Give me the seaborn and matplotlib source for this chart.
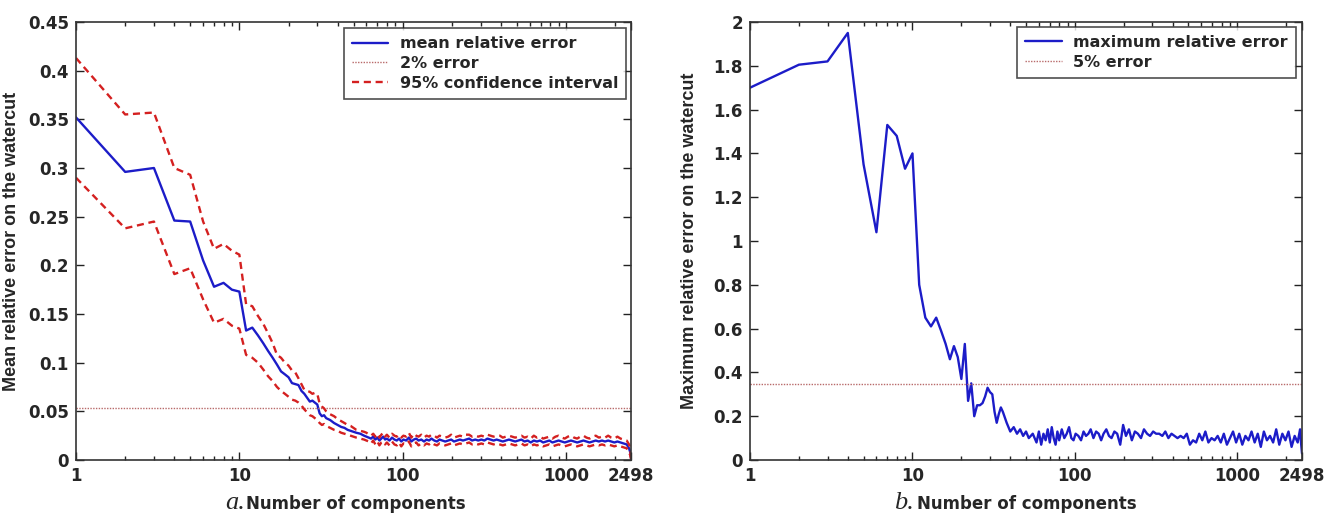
import matplotlib
matplotlib.use("Agg")
import matplotlib.pyplot as plt
import seaborn as sns
import numpy as np
import pandas as pd
from matplotlib.ticker import FixedLocator, FixedFormatter, LogLocator, NullFormatter

# ---------------- data ----------------
components = [
    1, 2, 3, 4, 5, 6, 7, 8, 9, 10,
    11, 12, 13, 14, 15, 16, 17, 18, 19, 20,
    21, 22, 23, 24, 25, 26, 27, 28, 29, 30,
    31, 32, 33, 34, 35, 36, 38, 40, 42, 44,
    46, 48, 50, 52, 55, 58, 60, 62, 64, 66,
    68, 70, 72, 74, 76, 78, 80, 83, 86, 89,
    92, 95, 98, 101, 105, 109, 113, 117, 121, 125,
    130, 135, 140, 145, 150, 156, 162, 168, 175, 182,
    190, 198, 206, 215, 224, 234, 244, 255, 266, 278,
    290, 303, 316, 330, 345, 360, 376, 393, 410, 428,
    447, 467, 488, 510, 533, 557, 582, 608, 635, 663,
    693, 724, 756, 790, 825, 862, 900, 940, 982, 1026,
    1072, 1120, 1170, 1222, 1277, 1334, 1393, 1455, 1520, 1588,
    1659, 1733, 1810, 1891, 1975, 2063, 2155, 2251, 2350, 2430,
    2470, 2498,
]

mean_err = [
    .352, .296, .300, .246, .245, .205, .178, .182, .175, .173,
    .133, .136, .128, .120, .112, .105, .098, .091, .088, .085,
    .079, .078, .077, .071, .068, .064, .060, .061, .059, .057,
    .048, .045, .046, .043, .042, .041, .038, .036, .034, .033,
    .031, .030, .029, .028, .027, .025, .024, .023, .022, .024,
    .021, .023, .020, .022, .024, .021, .022, .020, .023, .021,
    .020, .022, .019, .021, .020, .023, .019, .021, .022, .020,
    .021, .019, .021, .020, .022, .020, .019, .021, .020, .019,
    .020, .021, .019, .020, .021, .020, .021, .022, .020, .021,
    .020, .021, .020, .022, .021, .020, .021, .020, .019, .020,
    .021, .020, .019, .020, .021, .019, .020, .018, .020, .019,
    .020, .018, .019, .020, .018, .019, .020, .019, .018, .019,
    .020, .019, .018, .019, .020, .019, .018, .019, .020, .019,
    .020, .019, .020, .019, .018, .019, .018, .017, .016, .012,
    .008, .002,
]

ci_upper = [
    .413, .355, .357, .300, .293, .245, .217, .222, .215, .211,
    .160, .158, .148, .140, .130, .120, .108, .105, .100, .097,
    .092, .090, .084, .078, .072, .071, .070, .068, .069, .068,
    .058, .055, .053, .050, .048, .047, .045, .042, .040, .038,
    .036, .035, .033, .031, .030, .029, .028, .026, .025, .027,
    .024, .027, .023, .026, .028, .024, .026, .023, .027, .025,
    .024, .026, .023, .025, .024, .028, .023, .027, .025, .024,
    .026, .023, .025, .024, .026, .025, .023, .025, .024, .023,
    .024, .026, .023, .024, .025, .024, .026, .026, .024, .025,
    .024, .025, .024, .026, .025, .024, .025, .025, .023, .024,
    .025, .024, .023, .024, .025, .023, .024, .022, .025, .023,
    .024, .022, .023, .024, .022, .024, .025, .023, .022, .024,
    .025, .023, .022, .024, .025, .023, .022, .024, .025, .023,
    .024, .023, .025, .023, .022, .024, .022, .021, .020, .016,
    .011, .003,
]

ci_lower = [
    .290, .238, .245, .191, .197, .165, .141, .145, .138, .135,
    .108, .105, .100, .093, .086, .081, .075, .071, .068, .065,
    .062, .061, .059, .056, .052, .049, .046, .045, .043, .041,
    .038, .036, .037, .035, .034, .033, .031, .030, .028, .027,
    .026, .025, .024, .023, .022, .021, .020, .019, .017, .020,
    .016, .019, .015, .018, .019, .016, .018, .015, .019, .016,
    .015, .018, .014, .017, .016, .019, .014, .017, .018, .015,
    .017, .015, .017, .016, .018, .016, .015, .017, .016, .015,
    .016, .017, .015, .016, .017, .016, .017, .018, .016, .017,
    .016, .017, .016, .018, .017, .016, .017, .016, .015, .016,
    .017, .016, .015, .016, .017, .015, .016, .014, .016, .015,
    .016, .014, .015, .016, .014, .015, .016, .015, .014, .015,
    .016, .015, .014, .015, .016, .015, .014, .015, .016, .015,
    .016, .015, .016, .015, .014, .015, .014, .013, .012, .008,
    .005, .001,
]

max_err = [
    1.70, 1.805, 1.82, 1.95, 1.35, 1.04, 1.53, 1.48, 1.33, 1.40,
    .80, .65, .61, .65, .59, .53, .46, .52, .47, .37,
    .53, .27, .35, .20, .25, .25, .26, .29, .33, .31,
    .30, .22, .17, .21, .24, .22, .17, .13, .15, .12,
    .14, .11, .13, .10, .12, .08, .13, .07, .12, .09,
    .14, .08, .15, .10, .07, .13, .09, .14, .10, .12,
    .15, .10, .09, .12, .11, .09, .13, .11, .12, .14,
    .10, .13, .12, .09, .12, .14, .11, .10, .13, .12,
    .07, .16, .11, .14, .09, .13, .12, .10, .14, .12,
    .11, .13, .12, .12, .11, .13, .10, .12, .11, .10,
    .11, .10, .12, .07, .09, .08, .12, .09, .13, .08,
    .10, .09, .11, .08, .12, .07, .10, .13, .08, .12,
    .07, .11, .09, .13, .08, .12, .06, .13, .09, .11,
    .08, .14, .07, .12, .09, .13, .06, .11, .08, .14,
    .07, .03,
]

threshold_a = 0.053   # "2% error" line
threshold_b = 0.345   # "5% error" line

xtick_vals = [1, 10, 100, 1000, 2498]
xtick_labels = ["1", "10", "100", "1000", "2498"]
ytick_a = [0, 0.05, 0.1, 0.15, 0.2, 0.25, 0.3, 0.35, 0.4, 0.45]
ytick_a_labels = ["0", "0.05", "0.1", "0.15", "0.2", "0.25", "0.3", "0.35", "0.4", "0.45"]
ytick_b = [0, 0.2, 0.4, 0.6, 0.8, 1.0, 1.2, 1.4, 1.6, 1.8, 2.0]
ytick_b_labels = ["0", "0.2", "0.4", "0.6", "0.8", "1", "1.2", "1.4", "1.6", "1.8", "2"]

# ---------------- style ----------------
sns.set_style("ticks", {"xtick.direction": "in", "ytick.direction": "in",
                        "axes.edgecolor": "#333333"})
plt.rcParams["font.family"] = ["DejaVu Sans"]
plt.rcParams["font.weight"] = "bold"

BLUE = "#1c1cc8"
RED = "#d42020"
DOT = "#b86a6a"

W, H = 1326, 513
fig = plt.figure(figsize=(W / 100, H / 100), dpi=100)

def px_axes(x0, x1, y0, y1):
    return fig.add_axes([x0 / W, 1 - y1 / H, (x1 - x0) / W, (y1 - y0) / H])

axA = px_axes(76, 631, 22, 460)
axB = px_axes(750, 1302, 22, 460)

dfA = pd.DataFrame({"n": components, "mean": mean_err, "up": ci_upper, "lo": ci_lower})
dfB = pd.DataFrame({"n": components, "max": max_err})

LW = 1.7
sns.lineplot(data=dfA, x="n", y="mean", ax=axA, color=BLUE, lw=LW, label="mean relative error")
axA.axhline(threshold_a, color=DOT, lw=1.0, ls=(0, (1, 1)), label="2% error")
sns.lineplot(data=dfA, x="n", y="up", ax=axA, color=RED, lw=LW, ls=(0, (3, 2)), label="95% confidence interval")
sns.lineplot(data=dfA, x="n", y="lo", ax=axA, color=RED, lw=LW, ls=(0, (3, 2)))

sns.lineplot(data=dfB, x="n", y="max", ax=axB, color=BLUE, lw=LW, label="maximum relative error")
axB.axhline(threshold_b, color=DOT, lw=1.0, ls=(0, (1, 1)), label="5% error")

legend_anchor = {id(axA): (0.991, 0.986), id(axB): (0.989, 0.989)}

for ax, yt, ytl, ymax in [(axA, ytick_a, ytick_a_labels, 0.45), (axB, ytick_b, ytick_b_labels, 2.0)]:
    ax.set_xscale("log")
    ax.set_xlim(1, 2498)
    ax.set_ylim(0, ymax)
    ax.xaxis.set_major_locator(FixedLocator(xtick_vals))
    ax.xaxis.set_major_formatter(FixedFormatter(xtick_labels))
    ax.xaxis.set_minor_locator(LogLocator(base=10, subs=np.arange(2, 10)))
    ax.xaxis.set_minor_formatter(NullFormatter())
    ax.set_yticks(yt)
    ax.set_yticklabels(ytl)
    ax.tick_params(which="both", direction="in", top=True, right=True, labelsize=12,
                   width=1.0, color="#222222", pad=5)
    ax.tick_params(which="major", length=6)
    ax.tick_params(which="minor", length=3)
    for s in ax.spines.values():
        s.set_linewidth(1.2)
        s.set_color("#333333")
    ax.set_xlabel("")
    ax.set_ylabel("")
    leg = ax.legend(loc="upper right", bbox_to_anchor=legend_anchor[id(ax)],
                    fontsize=11.5, frameon=True, fancybox=False,
                    edgecolor="#222222", borderaxespad=0.0, handlelength=2.3,
                    handletextpad=0.7, labelspacing=0.3, borderpad=0.5)
    leg.get_frame().set_linewidth(1.2)

axA.set_ylabel("Mean relative error on the watercut", fontsize=13, fontweight="bold",
               family="Liberation Sans")
axB.set_ylabel("Maximum relative error on the watercut", fontsize=13, fontweight="bold",
               family="Liberation Sans")
axA.yaxis.set_label_coords(-0.101, 0.5)
axB.yaxis.set_label_coords(-0.094, 0.5)

def ftext(xp, yp, s, **kw):
    fig.text(xp / W, 1 - yp / H, s, va="baseline", **kw)

ftext(225, 509, "a.", fontsize=19, family="Liberation Serif", style="italic", fontweight="normal")
ftext(246, 509, "Number of components", fontsize=12, fontweight="bold")
ftext(894, 509, "b.", fontsize=19, family="Liberation Serif", style="italic", fontweight="normal")
ftext(917, 509, "Number of components", fontsize=12, fontweight="bold")

fig.savefig("out.png", dpi=100, facecolor="white")
